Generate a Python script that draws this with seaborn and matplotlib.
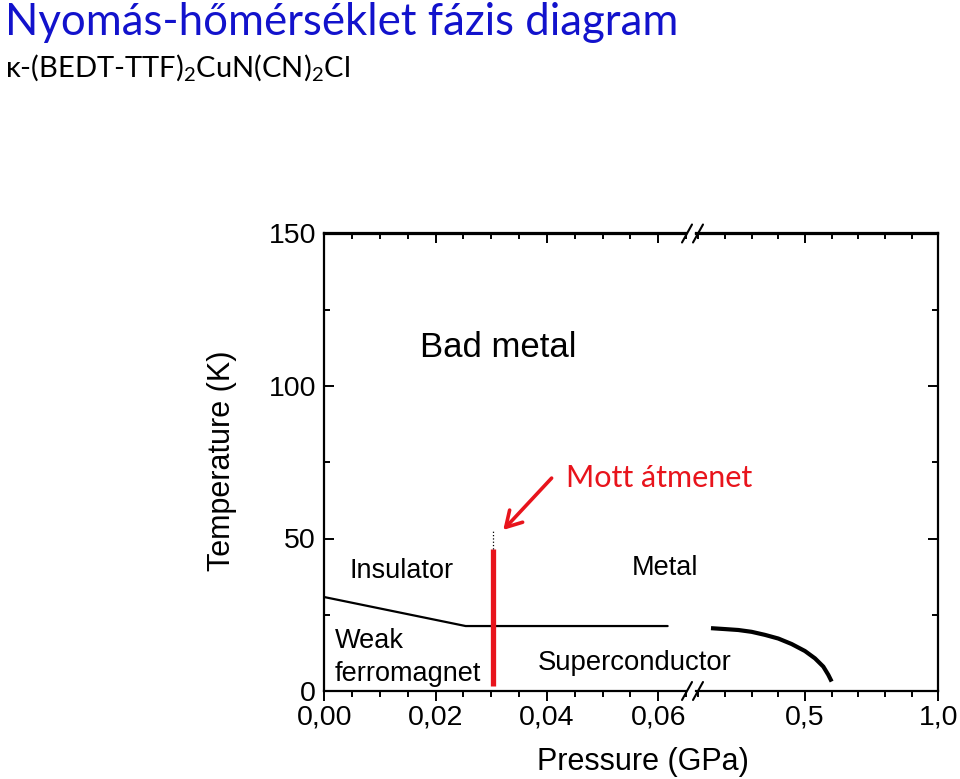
import matplotlib
matplotlib.use("Agg")
import matplotlib.pyplot as plt
from matplotlib.lines import Line2D
from matplotlib.ticker import MultipleLocator
import seaborn as sns

# phase boundaries
afm_p = [0.0, 0.0254, 0.0617]          # insulator / weak ferromagnet boundary
afm_T = [30.8, 21.3, 21.3]
sc_p = [0.1475, 0.200, 0.250, 0.300, 0.350, 0.400, 0.450, 0.500, 0.5375, 0.5687, 0.5875, 0.600]
sc_T = [20.6, 20.3, 20.0, 19.4, 18.4, 17.2, 15.4, 13.1, 10.7, 8.0, 5.3, 3.1]
mott_p = [0.0304, 0.0304]              # first order Mott line
mott_T = [1.6, 46.6]
crit_T = [46.6, 52.8]                  # dotted continuation to critical point

y_ticks = [0, 50, 100, 150]
left_ticks = [0.00, 0.02, 0.04, 0.06]
left_labels = ["0,00", "0,02", "0,04", "0,06"]
right_ticks = [0.5, 1.0]
right_labels = ["0,5", "1,0"]

sns.set_style("ticks")
plt.rcParams['font.family'] = ['Liberation Sans', 'DejaVu Sans']
plt.rcParams['mathtext.fontset'] = 'custom'
plt.rcParams['mathtext.rm'] = 'Lato'
for key in ('text.color', 'axes.labelcolor', 'xtick.color', 'ytick.color', 'axes.edgecolor'):
    plt.rcParams[key] = 'black'

W, H = 960, 779
fig = plt.figure(figsize=(9.6, 7.79), dpi=100)
axL = fig.add_axes([324.3 / W, 1 - 691 / H, (686 - 324.3) / W, (691 - 233.5) / H])
axR = fig.add_axes([696 / W, 1 - 691 / H, (938.3 - 696) / W, (691 - 233.5) / H], sharey=axL)
axR.patch.set_visible(False)

# lines
sns.lineplot(x=afm_p, y=afm_T, ax=axL, color='black', lw=1.6, sort=False, estimator=None)
sns.lineplot(x=mott_p, y=mott_T, ax=axL, color='#e8141c', lw=3.8, sort=False, estimator=None,
             solid_capstyle='butt')
sns.lineplot(x=mott_p, y=crit_T, ax=axL, color='black', lw=0.9, ls=':', sort=False, estimator=None)
sns.lineplot(x=sc_p, y=sc_T, ax=axR, color='black', lw=3.0, sort=False, estimator=None,
             solid_capstyle='butt')

# axes limits / ticks
axL.set_xlim(0, 0.065)
axR.set_xlim(0.0913, 1.0)
axL.set_ylim(0, 150)
axL.set_yticks(y_ticks)
axL.yaxis.set_minor_locator(MultipleLocator(25))
axL.set_xticks(left_ticks)
axL.set_xticklabels(left_labels)
axL.xaxis.set_minor_locator(MultipleLocator(0.005))
axR.set_xticks(right_ticks)
axR.set_xticklabels(right_labels)
axR.xaxis.set_minor_locator(MultipleLocator(0.1))

for ax in (axL, axR):
    for s in ax.spines.values():
        s.set_linewidth(1.6)
    ax.tick_params(axis='x', which='both', bottom=True, top=False, direction='out',
                   labelsize=20.5, pad=3, width=1.4)
    ax.tick_params(axis='x', which='major', length=7)
    ax.tick_params(axis='x', which='minor', length=4)
    ax.set_xlabel('')
    ax.set_ylabel('')
    # top ticks point inwards
    sec = ax.secondary_xaxis('top')
    sec.set_xticks(ax.get_xticks())
    sec.set_xticklabels([])
    sec.xaxis.set_minor_locator(MultipleLocator(0.005 if ax is axL else 0.1))
    sec.tick_params(which='both', direction='in', width=1.4)
    sec.tick_params(which='major', length=7)
    sec.tick_params(which='minor', length=4)
    sec.spines['top'].set_linewidth(1.6)

axL.spines['right'].set_visible(False)
axR.spines['left'].set_visible(False)
axL.tick_params(axis='y', which='both', left=True, right=False, direction='in',
                labelsize=20.5, pad=6, width=1.4)
axL.tick_params(axis='y', which='major', length=7)
axL.tick_params(axis='y', which='minor', length=4)
axR.tick_params(axis='y', which='both', left=False, right=True, labelleft=False,
                direction='in', width=1.4)
axR.tick_params(axis='y', which='major', length=7)
axR.tick_params(axis='y', which='minor', length=4)

# break marks
for cy in (233.5, 691):
    for cx in (687, 698):
        fig.add_artist(Line2D([(cx - 5) / W, (cx + 5) / W], [1 - (cy + 9) / H, 1 - (cy - 9) / H],
                              transform=fig.transFigure, color='black', lw=1.5))

# region labels
axL.text(0.0172, 109.6, "Bad metal", fontsize=25, va='baseline')
axL.text(0.0046, 37.1, "Insulator", fontsize=19.5, va='baseline')
axL.text(0.0553, 38.1, "Metal", fontsize=19.5, va='baseline', clip_on=False)
axL.text(0.0019, 14.1, "Weak", fontsize=19.5, va='baseline')
axL.text(0.0019, 3.4, "ferromagnet", fontsize=19.5, va='baseline')
axL.text(0.0384, 6.9, "Superconductor", fontsize=19.8, va='baseline', clip_on=False)

# Mott transition annotation
axL.annotate("", xy=(0.03216, 52.8), xytext=(0.04085, 69.8),
             arrowprops=dict(arrowstyle="->,head_length=0.55,head_width=0.32",
                             color='#e8141c', lw=2.6, mutation_scale=20, shrinkA=0, shrinkB=0))
axL.text(0.0434, 67.0, "Mott átmenet", fontsize=22, color='#e8141c', va='baseline',
         family=['Lato', 'DejaVu Sans'], clip_on=False)

# axis labels
fig.text(643 / W, 1 - 770 / H, "Pressure (GPa)", fontsize=22, ha='center', va='baseline')
fig.text(222 / W, 1 - 461 / H, "Temperature (K)", fontsize=22, ha='center', va='center',
         rotation=90)

# slide title
fig.text(5 / W, 1 - 35 / H, "Nyomás-hőmérséklet fázis diagram", fontsize=31.5, color='#1212cc',
         family=['Lato', 'DejaVu Sans'], va='baseline')
fig.text(5 / W, 1 - 77 / H, r"κ-(BEDT-TTF)$_2$CuN(CN)$_2$Cl", fontsize=21, color='black',
         family=['Lato', 'DejaVu Sans'], va='baseline')

fig.savefig("out.png", dpi=100)
